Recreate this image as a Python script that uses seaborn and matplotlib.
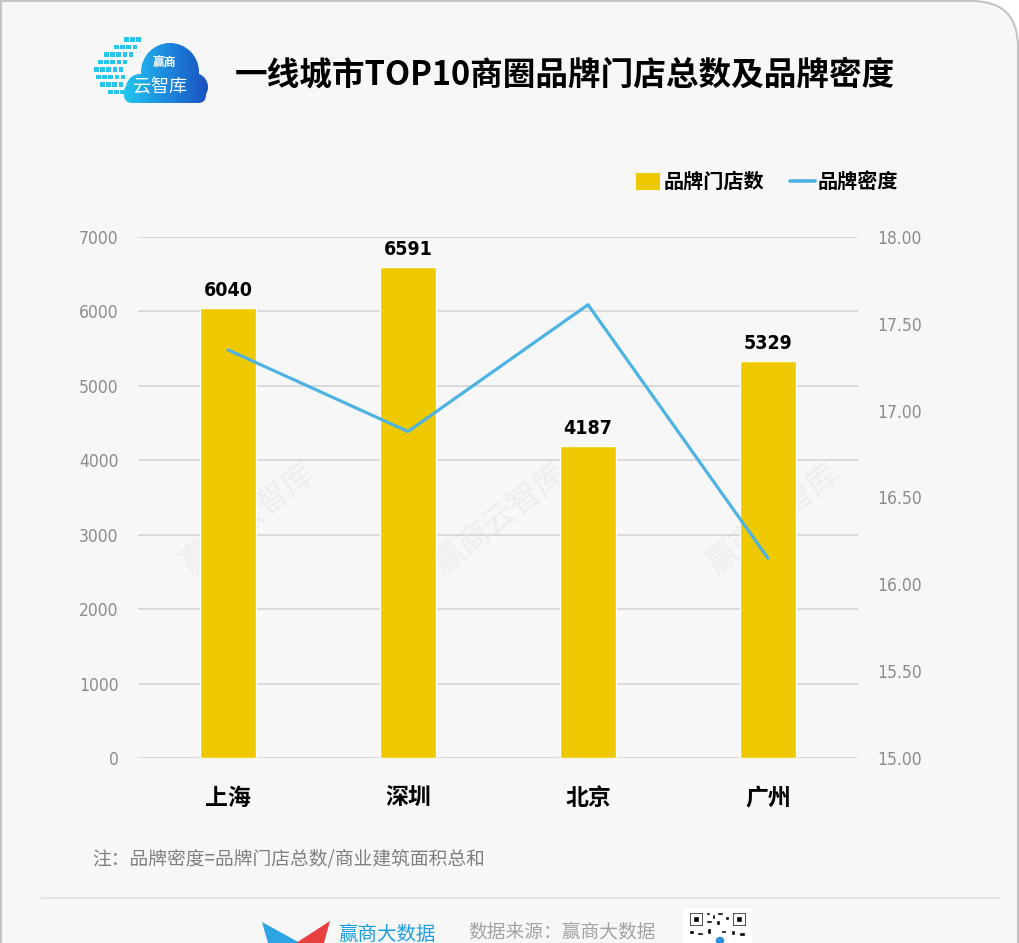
"""
一线城市TOP10商圈品牌门店总数及品牌密度 – bar + line on twin axes.
"""

import numpy as np
import pandas as pd
import matplotlib
matplotlib.use("Agg")
import matplotlib.pyplot as plt
import matplotlib.patches as mpatches
from matplotlib.lines import Line2D
from matplotlib import font_manager
import seaborn as sns

# ── Data ──────────────────────────────────────────────────────────────────────
CITIES = ["上海", "深圳", "北京", "广州"]
STORES = [6040, 6591, 4187, 5329]
DENSITY = [17.35, 16.88, 17.61, 16.15]
LEFT_TICKS = [0, 1000, 2000, 3000, 4000, 5000, 6000, 7000]
RIGHT_TICKS = [15.0, 15.5, 16.0, 16.5, 17.0, 17.5, 18.0]

TITLE = "一线城市TOP10商圈品牌门店总数及品牌密度"
LEG_BAR = "品牌门店数"
LEG_LINE = "品牌密度"
NOTE = "注：品牌密度=品牌门店总数/商业建筑面积总和"
SOURCE = "数据来源：赢商大数据"
BRAND = "赢商大数据"
WATERMARK = "赢商云智库"

# ── Style ─────────────────────────────────────────────────────────────────────
BAR = "#EEC900"
LINE = "#4EB3E3"
GRID = "#DADADA"
TICK = "#8C8C8C"
BG = "#F7F7F7"
CJK = ["Noto Sans CJK SC", "DejaVu Sans"]

sns.set_theme(style="white")
plt.rcParams["font.family"] = CJK

# pick a narrow face for the numbers if one is installed
names = {(f.name, f.stretch) for f in font_manager.fontManager.ttflist}
if any(n == "Liberation Sans Narrow" for n, _ in names):
    NUM = dict(family=["Liberation Sans Narrow"], stretch="normal")
elif any(n == "DejaVu Sans" and s not in ("normal", 500) for n, s in names):
    NUM = dict(family=["DejaVu Sans"], stretch="condensed")
else:
    NUM = dict(family=["Roboto", "DejaVu Sans"], stretch="normal")

W, H = 1020, 943
fig = plt.figure(figsize=(W / 100, H / 100), dpi=100, facecolor="white")


def fx(x):
    return x / W


def fy(y):
    return 1 - y / H


# card background with rounded top-right corner
card = mpatches.FancyBboxPatch((-100, -100), 1118, 1042,
                               boxstyle="round,pad=0,rounding_size=46",
                               transform=None, facecolor=BG,
                               edgecolor="#C4C4C4", linewidth=1.5, zorder=-5)
fig.patches.append(card)
fig.add_artist(Line2D([fx(1), fx(1)], [0, fy(1)], transform=fig.transFigure,
                      color="#C4C4C4", lw=1.5, zorder=-4))

# watermarks
for wx in [248, 500, 773]:
    fig.text(fx(wx), fy(518), WATERMARK, rotation=38, ha="center", va="center",
             fontsize=23, color="#EDEDED", zorder=-3)

# ── Main chart ────────────────────────────────────────────────────────────────
df = pd.DataFrame({"city": CITIES, "stores": STORES, "density": DENSITY})

ax = fig.add_axes([fx(138), fy(758), 720 / W, 521 / H])
ax.set_facecolor("none")
sns.barplot(data=df, x="city", y="stores", color=BAR, saturation=1,
            width=0.31, ax=ax, zorder=2)
ax.set_ylim(0, 7000)
ax.set_yticks(LEFT_TICKS)
ax.set_yticklabels([str(v) for v in LEFT_TICKS])
ax.yaxis.grid(True, color=GRID, lw=1.4)
ax.xaxis.grid(False)
ax.set_axisbelow(True)
ax.set_xlabel("")
ax.set_ylabel("")
ax.tick_params(axis="y", length=0, pad=14, labelcolor=TICK, labelsize=12.5)
ax.tick_params(axis="x", length=0, pad=21, labelsize=16.5)
for lbl in ax.get_yticklabels():
    lbl.set_fontfamily(NUM["family"])
    lbl.set_fontstretch(NUM["stretch"])
for lbl in ax.get_xticklabels():
    lbl.set_fontweight("bold")
    lbl.set_color("black")

for i, v in enumerate(STORES):
    ax.annotate(f"{v}", (i, v), xytext=(0, 6), textcoords="offset points",
                ha="center", va="bottom", fontsize=14, fontweight="bold",
                family=NUM["family"], fontstretch=NUM["stretch"], color="black")

ax2 = ax.twinx()
sns.lineplot(data=df, x="city", y="density", sort=False, color=LINE,
             lw=2.3, ax=ax2, solid_capstyle="round")
ax2.set_ylim(15, 18)
ax2.set_yticks(RIGHT_TICKS)
ax2.set_yticklabels([f"{v:.2f}" for v in RIGHT_TICKS])
ax2.set_ylabel("")
ax2.set_xlabel("")
ax2.grid(False)
ax2.tick_params(axis="y", length=0, pad=14, labelcolor=TICK, labelsize=12.5)
for lbl in ax2.get_yticklabels():
    lbl.set_fontfamily(NUM["family"])
    lbl.set_fontstretch(NUM["stretch"])
ax.set_xlim(-0.5, 3.5)
for a in (ax, ax2):
    for s in a.spines.values():
        s.set_visible(False)

# ── Title & legend ────────────────────────────────────────────────────────────
fig.text(fx(565), fy(75), TITLE, ha="center", va="center", fontsize=23.5,
         fontweight="heavy", color="black")

fig.patches.append(mpatches.Rectangle((fx(636), fy(190)), 24 / W, 17 / H,
                                      transform=fig.transFigure,
                                      facecolor=BAR, edgecolor="none"))
fig.text(fx(664), fy(181), LEG_BAR, ha="left", va="center", fontsize=14.5,
         fontweight="bold", color="black")
fig.add_artist(Line2D([fx(790), fx(815)], [fy(181), fy(181)],
                      transform=fig.transFigure, color=LINE, lw=2.6,
                      solid_capstyle="round"))
fig.text(fx(818), fy(181), LEG_LINE, ha="left", va="center", fontsize=14.5,
         fontweight="bold", color="black")

# ── Logo (cloud) ──────────────────────────────────────────────────────────────
lax = fig.add_axes([fx(90), fy(106), 120 / W, 76 / H])
lax.set_xlim(90, 210)
lax.set_ylim(106, 30)
lax.axis("off")
grad = np.linspace(0, 1, 120).reshape(1, -1)
cloud_cmap = matplotlib.colors.LinearSegmentedColormap.from_list(
    "cloud", ["#22D3F2", "#1E8FE0", "#1A4FBF"])
shapes = [mpatches.Circle((170, 72), 29),
          mpatches.Circle((140, 88), 14),
          mpatches.Circle((194, 87), 14),
          mpatches.FancyBboxPatch((124, 84), 82, 19,
                                  boxstyle="round,pad=0,rounding_size=8")]
for shp in shapes:
    shp.set_facecolor("none")
    shp.set_edgecolor("none")
    lax.add_patch(shp)
    im = lax.imshow(grad, cmap=cloud_cmap, extent=(115, 210, 103, 40),
                    aspect="auto")
    im.set_clip_path(shp)
for row, (x0, n) in enumerate([(124, 3), (114, 4), (104, 5), (98, 5),
                               (94, 5), (96, 5), (100, 4), (108, 3)]):
    for k in range(n):
        lax.add_patch(mpatches.Rectangle((x0 + k * 6.2, 37 + row * 7.5), 4.6, 4.6,
                                         facecolor="#27C6EE", edgecolor="none",
                                         zorder=0))
lax.text(164, 62, "赢商", ha="center", va="center", fontsize=8.5,
         fontweight="bold", color="white")
lax.text(160, 87, "云智库", ha="center", va="center", fontsize=13,
         color="white")

# ── Footer ────────────────────────────────────────────────────────────────────
fig.text(fx(92), fy(860), NOTE, ha="left", va="center", fontsize=13.5,
         color="#7F7F7F")
fig.add_artist(Line2D([fx(42), fx(1000)], [fy(898), fy(898)],
                      transform=fig.transFigure, color="#E4E4E4", lw=1.5))
fig.patches.append(mpatches.Polygon(
    [(fx(262), fy(922)), (fx(300), fy(943)), (fx(300), fy(950)), (fx(270), fy(950))],
    closed=True, transform=fig.transFigure, facecolor="#2FA4E4", edgecolor="none"))
fig.patches.append(mpatches.Polygon(
    [(fx(330), fy(921)), (fx(296), fy(943)), (fx(300), fy(950)), (fx(322), fy(950))],
    closed=True, transform=fig.transFigure, facecolor="#E8403F", edgecolor="none"))
fig.text(fx(338), fy(934), BRAND, ha="left", va="center", fontsize=14,
         color="#1D9DE0")
fig.text(fx(468), fy(932), SOURCE, ha="left", va="center", fontsize=13.5,
         color="#A3A3A3")

qax = fig.add_axes([fx(683), 0, 69 / W, 35 / H])
qax.set_xlim(0, 69)
qax.set_ylim(35, 0)
qax.axis("off")
qax.add_patch(mpatches.Rectangle((0, 0), 69, 35, facecolor="white"))
for qx in (6, 49):
    qax.add_patch(mpatches.Rectangle((qx, 4), 14, 14, facecolor="black"))
    qax.add_patch(mpatches.Rectangle((qx + 2, 6), 10, 10, facecolor="white"))
    qax.add_patch(mpatches.Rectangle((qx + 4, 8), 6, 6, facecolor="black"))
for bx, by, bw, bh in [(23, 4, 4, 3), (29, 6, 3, 5), (34, 4, 6, 3), (42, 8, 4, 4),
                       (23, 12, 6, 3), (33, 12, 4, 5), (6, 22, 5, 4), (14, 24, 6, 3),
                       (24, 20, 4, 6), (38, 22, 5, 3), (48, 22, 4, 5), (56, 24, 6, 4)]:
    qax.add_patch(mpatches.Rectangle((bx, by), bw, bh, facecolor="black"))
qax.add_patch(mpatches.Circle((37, 33), 5, facecolor="#2F8FD8"))

fig.savefig("out.png", dpi=100, facecolor=fig.get_facecolor())
